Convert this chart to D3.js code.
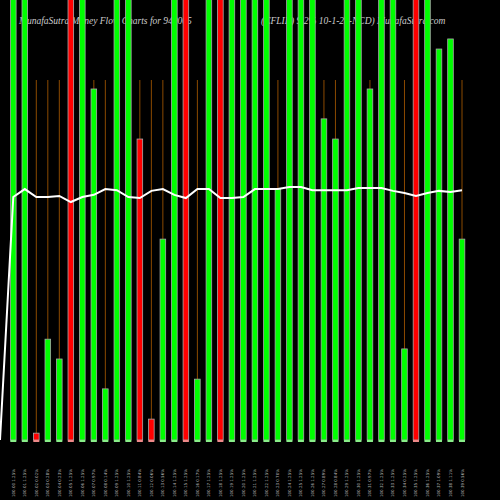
<!DOCTYPE html>
<html><head><meta charset="utf-8">
<script src="https://cdn.jsdelivr.net/npm/d3@7"></script>
<style>body{margin:0;background:#000}</style></head>
<body><svg id="c" width="500" height="500"></svg>
<script>
const values=[125,125,1.9,28,22.5,125,125,97.5,14.2,125,125,83.6,5.8,55.8,125,125,16.9,125,125,125,125,125,125,69.7,125,125,125,89.2,83.6,125,125,97.5,125,125,25.3,125,125,108.6,111.4,55.8];
const colors=["g","g","r","g","g","r","g","g","g","g","g","r","r","g","g","r","g","g","r","g","g","g","g","g","g","g","g","g","g","g","g","g","g","g","g","r","g","g","g","g"];
const lineVals=[0,67.5,69.7,67.5,67.5,67.8,66.1,67.5,68.1,69.7,69.4,67.5,67.2,69.2,69.7,68.1,67.2,69.7,69.7,67.2,67.2,67.5,69.7,69.7,69.7,70.3,70.3,69.4,69.4,69.4,69.4,70,70,70,69.2,68.6,67.8,68.6,69.2,68.9,69.4];
const labels=values.map((v,i)=>(100+i*0.01).toFixed(2)+" "+(v/100).toFixed(2)+"%");
const svg=d3.select("#c");
svg.append("rect").attr("width",500).attr("height",500).attr("fill","#000");
svg.append("text").attr("x",19).attr("y",24).attr("fill","#ccc").attr("font-size",9.5).attr("font-style","italic").attr("font-family","Liberation Serif").text("MunafaSutra  Money Flow  Charts for 940065");
svg.append("text").attr("x",261).attr("y",24).attr("fill","#ccc").attr("font-size",9.5).attr("font-style","italic").attr("font-family","Liberation Serif").text("(CFLIII) 9.2% 10-1-28-NCD) MunafaSutra.com");
const x=d3.scaleLinear().domain([0,39]).range([13.3,462]);
const y=d3.scaleLinear().domain([0,100]).range([440,80]);
const col=c=>c==="g"?"#00ff00":"#ff0000";
values.forEach((v,i)=>{
  if(v<100) svg.append("line").attr("x1",x(i)).attr("x2",x(i)).attr("y1",y(100)).attr("y2",y(v)).attr("stroke","#8b4a00").attr("stroke-width",1);
  svg.append("rect").attr("x",x(i)-2.8).attr("width",5.6).attr("y",y(v)).attr("height",y(0)-y(v))
   .attr("fill",col(colors[i])).attr("stroke","#aaaaaa").attr("stroke-width",0.8);
  svg.append("rect").attr("x",x(i)-3).attr("width",6).attr("y",440).attr("height",2).attr("fill",colors[i]==="g"?"#88ee88":"#ee8888");
  svg.append("text").attr("transform",`translate(${x(i)+1.5},497) rotate(-90)`).attr("fill","#bbb")
   .attr("font-size",4).attr("font-family","DejaVu Sans").text(labels[i]);
});
const line=d3.line().x((d,i)=>i===0?0:x(i-1)).y(d=>y(d));
svg.append("path").datum(lineVals).attr("d",line).attr("fill","none").attr("stroke","#fff").attr("stroke-width",2);
</script></body></html>
